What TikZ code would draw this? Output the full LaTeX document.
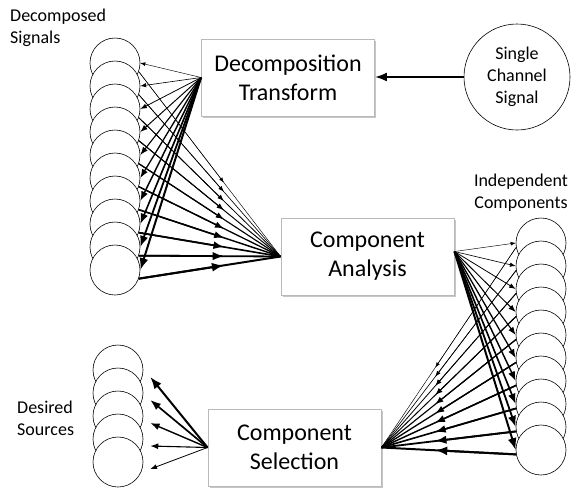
\documentclass[tikz,border=0pt]{standalone}
\usepackage{fontspec}
\setmainfont{Carlito}
\usetikzlibrary{arrows.meta,calc,shadows}
\begin{document}
\begin{tikzpicture}[x=1pt,y=-1pt,
  box/.style={draw=gray!55, line width=0.9pt, fill=white, minimum width=173pt, minimum height=77pt,
    align=center, font=\fontsize{24}{29}\selectfont,
    drop shadow={opacity=0.45, shadow xshift=1.6pt, shadow yshift=-1.6pt}},
  circ/.style={draw, circle, fill=white, line width=0.6pt, minimum size=50pt, inner sep=0pt},
  lbl/.style={font=\fontsize{18}{22}\selectfont, inner sep=0pt},
  arr/.style={-{Latex}}
]
\useasboundingbox (0,0) rectangle (573,488);

% boxes
\node[box] (dt) at (288,77.5) {Decomposition\\Transform};
\node[box] (ca) at (367.5,256.5) {Component\\Analysis};
\node[box] (cs) at (294.5,447.5) {Component\\Selection};

% single channel signal
\node[circ, minimum size=106pt, lbl, align=center] (scs) at (517,77) {Single\\Channel\\Signal};

% stacks
\foreach \i in {0,...,9} {
  \node[circ] (L\i) at (115,{63+23*\i}) {};
}
\foreach \i in {0,...,9} {
  \node[circ] (R\i) at (541,{243+23*\i}) {};
}
\foreach \j in {0,...,4} {
  \node[circ] (D\j) at (118,{370+23*\j}) {};
}

% labels
\node[lbl, align=left, anchor=west] (t1) at (10,28) {Decomposed\\Signals};
\node[lbl, align=center] (t2) at (521,192.5) {Independent\\Components};
\node[lbl, align=left, anchor=west] (t3) at (17,418.5) {Desired\\Sources};

\coordinate (caout) at ([yshift=5pt]ca.east);

% single channel -> decomposition transform
\draw[arr, line width=2pt] (scs.west) -- (dt.east |- scs.west);

\foreach \i in {0,...,9} {
  \pgfmathsetmacro\w{0.45+0.17*\i}
  % decomposition transform -> decomposed signals
  \draw[arr, line width=\w pt] (dt.west) -- (L\i.east);
  % decomposed signals -> component analysis (head midway)
  \draw[line width=\w pt] (L\i.-20) -- (ca.west);
  \draw[arr, line width=\w pt] (L\i.-20) -- ($(L\i.-20)!0.6!(ca.west)$);
  % component analysis -> independent components
  \draw[arr, line width=\w pt] (caout) -- (R\i.west);
  % independent components -> component selection (head midway)
  \draw[line width=\w pt] (R\i.190) -- (cs.east);
  \draw[arr, line width=\w pt] (R\i.190) -- ($(R\i.190)!0.6!(cs.east)$);
}

% component selection -> desired sources
\foreach \j in {0,...,4} {
  \pgfmathsetmacro\w{2.0-0.3*\j}
  \draw[arr, line width=\w pt] (cs.west) -- ([shift={(7pt,-7pt)}]D\j.east);
}
\end{tikzpicture}
\end{document}
